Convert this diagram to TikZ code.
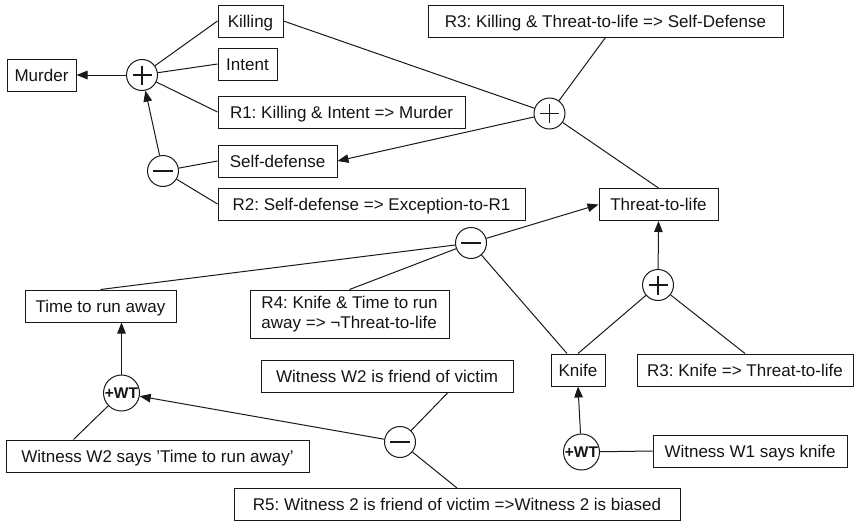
\documentclass[tikz,border=0pt]{standalone}
\usepackage{fontspec}
\setmainfont{Liberation Sans}
\usetikzlibrary{arrows.meta}
\frenchspacing

\begin{document}
\begin{tikzpicture}[x=1pt,y=-1pt,
  ink/.style={draw=black!90},
  box/.style={ink, line width=1pt, minimum height=32pt, inner sep=0pt,
    text=black!92, font=\fontsize{17}{19.5}\selectfont,
    text height=12.2pt, text depth=0pt},
  twoline/.style={ink, line width=1pt, inner sep=0pt, align=left,
    text=black!92, font=\fontsize{17}{19.5}\selectfont},
  op/.style={ink, circle, line width=1pt, minimum size=31pt, inner sep=0pt},
  plusop/.style={op, path picture={
    \draw[line width=1.6pt,black!90]
      ([xshift=-9.5pt]path picture bounding box.center) -- ([xshift=9.5pt]path picture bounding box.center)
      ([yshift=-9.5pt]path picture bounding box.center) -- ([yshift=9.5pt]path picture bounding box.center);}},
  minusop/.style={op, path picture={
    \draw[line width=1.6pt,black!90]
      ([xshift=-10pt]path picture bounding box.center) -- ([xshift=10pt]path picture bounding box.center);}},
  wtop/.style={ink, circle, line width=1pt, minimum size=36pt, inner sep=0pt,
    text=black!92, font=\fontsize{15.5}{17}\selectfont\bfseries},
  link/.style={black!90, line width=1pt},
  arr/.style={link, -{Triangle[length=11pt,width=8.5pt]}}
]
\useasboundingbox (0,0) rectangle (855,522);

% Murder rule R1 and its exception R2
\node[box, minimum width=69pt]  (murder)  at (41.5,75)   {Murder};
\node[plusop]                   (p1)      at (142,75)    {};
\node[box, minimum width=65pt]  (killing) at (250.5,21)  {Killing};
\node[box, minimum width=59pt]  (intent)  at (247.5,64)  {Intent};
\node[box, minimum width=247pt] (r1)      at (341.5,112) {R1: Killing \& Intent => Murder};
\node[minusop]                  (m1)      at (163,171)   {};
\node[box, minimum width=119pt] (selfdef) at (277.5,161) {Self-defense};
\node[box, minimum width=307pt] (r2)      at (371.5,204) {R2: Self-defense => Exception-to-R1};

% Self-defense rule R3
\node[plusop]                   (p2)      at (549.5,113.5) {};
\node[box, minimum width=355pt] (r3)      at (605.5,21)  {R3: Killing \& Threat-to-life => Self-Defense};
\node[box, minimum width=119pt] (ttl)     at (658.5,204.5) {Threat-to-life};

% Threat to life: support and attack
\node[minusop]                  (m2)      at (471,243)   {};
\node[box, minimum width=151pt] (time)    at (100.5,306) {Time to run away};
\node[twoline, minimum width=199pt, minimum height=48pt] (r4) at (349.5,314)
  {R4: Knife \& Time to run\\away => ¬Threat-to-life};
\node[plusop]                   (p3)      at (658,285)   {};
\node[box, minimum width=54pt]  (knife)   at (578,370)   {Knife};
\node[box, minimum width=216pt] (r3k)     at (745,370)   {R3: Knife => Threat-to-life};

% Witness testimony
\node[box, minimum width=252pt] (wfriend) at (387,376)   {Witness W2 is friend of victim};
\node[minusop]                  (m3)      at (400,442)   {};
\node[wtop]                     (wt1)     at (121.5,393) {+WT};
\node[box, minimum width=303pt] (wsays)   at (157.5,456) {Witness W2 says 'Time to run away'};
\node[box, minimum width=446pt] (r5)      at (457,504.5) {R5: Witness 2 is friend of victim =>Witness 2 is biased};
\node[wtop]                     (wt2)     at (581.5,452) {+WT};
\node[box, minimum width=194pt] (w1)      at (750,451)   {Witness W1 says knife};

% connectors
\draw[arr]  (p1) -- (murder);
\draw[link] (killing.west) -- (p1);
\draw[link] (intent.west) -- (p1);
\draw[link] (r1.west) -- (p1);
\draw[arr]  (m1) -- (p1);
\draw[link] (selfdef.west) -- (m1);
\draw[link] (r2.west) -- (m1);

\draw[arr]  (p2) -- (selfdef.east);
\draw[link] (killing.east) -- (p2);
\draw[link] (r3.south) -- (p2);
\draw[link] (ttl.north) -- (p2);

\draw[arr]  (m2) -- (ttl.west);
\draw[link] (time.north) -- (m2);
\draw[link] (r4.north) -- (m2);
\draw[link] ([xshift=-11pt]knife.north) -- (m2);
\draw[arr]  (p3) -- (ttl.south);
\draw[link] (knife.north) -- (p3);
\draw[link] (r3k.north) -- (p3);

\draw[arr]  (wt1.north) -- (wt1.north |- time.south);
\draw[link] ([xshift=-84pt]wsays.north) -- (wt1);
\draw[arr]  (m3) -- (wt1);
\draw[link] ([xshift=61pt]wfriend.south) -- (m3);
\draw[link] (r5.north) -- (m3);
\draw[arr]  (wt2) -- (knife.south);
\draw[link] (w1.west) -- (wt2);
\end{tikzpicture}
\end{document}
